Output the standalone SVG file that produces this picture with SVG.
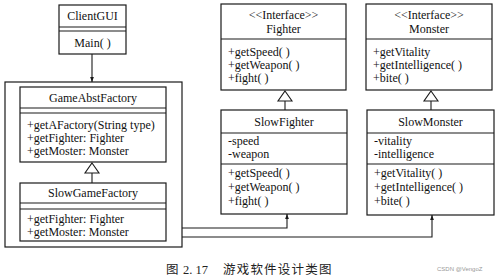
<svg xmlns="http://www.w3.org/2000/svg" width="499" height="279" viewBox="0 0 499 279">
<defs>
<style>
.box{fill:#fff;stroke:#1a1a1a;stroke-width:1.2}
.ln{stroke:#1a1a1a;stroke-width:1.1;fill:none}
.t{font-family:"Liberation Serif","Times New Roman",serif;font-size:12px;fill:#111}
.c{text-anchor:middle}
.tri{fill:#fff;stroke:#1a1a1a;stroke-width:1.1}
.cap{font-family:"Liberation Serif","Noto Sans CJK SC",serif;font-size:12.5px;fill:#222}
.wm{font-family:"Liberation Sans",sans-serif;font-size:6px;fill:#999}
</style>
<marker id="arr" viewBox="0 0 8 8" refX="8" refY="4" markerWidth="5" markerHeight="6" orient="auto" markerUnits="userSpaceOnUse">
<path d="M0,1 L8,4 L0,7 Z" fill="#1a1a1a"/>
</marker>
</defs>
<rect width="499" height="279" fill="#fff"/>

<g id="frame">
<rect class="box" x="5" y="82" width="177" height="165" fill="none"/>
</g>

<g id="ClientGUI">
<rect class="box" x="59" y="5" width="67" height="49"/>
<line class="ln" x1="59" y1="27" x2="126" y2="27"/>
<line class="ln" x1="59" y1="31" x2="126" y2="31"/>
<text class="t c" x="92.5" y="20">ClientGUI</text>
<text class="t c" x="92.5" y="47">Main( )</text>
</g>

<g id="GameAbstFactory">
<rect class="box" x="20" y="87" width="146" height="75"/>
<line class="ln" x1="20" y1="108" x2="166" y2="108"/>
<line class="ln" x1="20" y1="113" x2="166" y2="113"/>
<text class="t c" x="93" y="102">GameAbstFactory</text>
<text class="t" x="27" y="129">+getAFactory(String type)</text>
<text class="t" x="27" y="142">+getFighter: Fighter</text>
<text class="t" x="27" y="155">+getMoster: Monster</text>
</g>

<g id="SlowGameFactory">
<rect class="box" x="20" y="183" width="146" height="58"/>
<line class="ln" x1="20" y1="203" x2="166" y2="203"/>
<line class="ln" x1="20" y1="209" x2="166" y2="209"/>
<text class="t c" x="93" y="197">SlowGameFactory</text>
<text class="t" x="27" y="223">+getFighter: Fighter</text>
<text class="t" x="27" y="236">+getMoster: Monster</text>
</g>

<g id="Fighter">
<rect class="box" x="221" y="4" width="125" height="86"/>
<line class="ln" x1="221" y1="39" x2="346" y2="39"/>
<text class="t c" x="283.5" y="19">&lt;&lt;Interface&gt;&gt;</text>
<text class="t c" x="283.5" y="33">Fighter</text>
<text class="t" x="228" y="56">+getSpeed( )</text>
<text class="t" x="228" y="69">+getWeapon( )</text>
<text class="t" x="228" y="82">+fight( )</text>
</g>

<g id="Monster">
<rect class="box" x="366" y="4" width="126" height="86"/>
<line class="ln" x1="366" y1="39" x2="492" y2="39"/>
<text class="t c" x="429" y="19">&lt;&lt;Interface&gt;&gt;</text>
<text class="t c" x="429" y="33">Monster</text>
<text class="t" x="373" y="56">+getVitality</text>
<text class="t" x="373" y="69">+getIntelligence( )</text>
<text class="t" x="373" y="82">+bite( )</text>
</g>

<g id="SlowFighter">
<rect class="box" x="221" y="110" width="126" height="104"/>
<line class="ln" x1="221" y1="133" x2="347" y2="133"/>
<line class="ln" x1="221" y1="164" x2="347" y2="164"/>
<text class="t c" x="284" y="126">SlowFighter</text>
<text class="t" x="228" y="145">-speed</text>
<text class="t" x="228" y="158">-weapon</text>
<text class="t" x="228" y="177">+getSpeed( )</text>
<text class="t" x="228" y="191">+getWeapon( )</text>
<text class="t" x="228" y="205">+fight( )</text>
</g>

<g id="SlowMonster">
<rect class="box" x="367" y="110" width="127" height="105"/>
<line class="ln" x1="367" y1="133" x2="494" y2="133"/>
<line class="ln" x1="367" y1="164" x2="494" y2="164"/>
<text class="t c" x="430.5" y="126">SlowMonster</text>
<text class="t" x="374" y="145">-vitality</text>
<text class="t" x="374" y="158">-intelligence</text>
<text class="t" x="374" y="177">+getVitality( )</text>
<text class="t" x="374" y="191">+getIntelligence( )</text>
<text class="t" x="374" y="205">+bite( )</text>
</g>

<g id="connectors">
<line class="ln" x1="92" y1="54" x2="92" y2="82" marker-end="url(#arr)"/>
<line class="ln" x1="92" y1="183" x2="92" y2="173"/>
<path class="tri" d="M92,163 L99,173 L85,173 Z"/>
<line class="ln" x1="285" y1="110" x2="285" y2="101"/>
<path class="tri" d="M285,91 L292,101 L278,101 Z"/>
<line class="ln" x1="431" y1="110" x2="431" y2="101"/>
<path class="tri" d="M431,91 L438,101 L424,101 Z"/>
<polyline class="ln" points="182,228 287,228 287,214" marker-end="url(#arr)"/>
<polyline class="ln" points="182,237 432,237 432,215" marker-end="url(#arr)"/>
</g>

<g id="caption">
<text class="cap" x="166" y="274">图</text>
<text class="cap" x="183" y="274">2. 17</text>
<text class="cap" x="223" y="274" letter-spacing="1.2">游戏软件设计类图</text>
<text class="wm" x="437" y="271">CSDN @VengoZ</text>
</g>
</svg>
